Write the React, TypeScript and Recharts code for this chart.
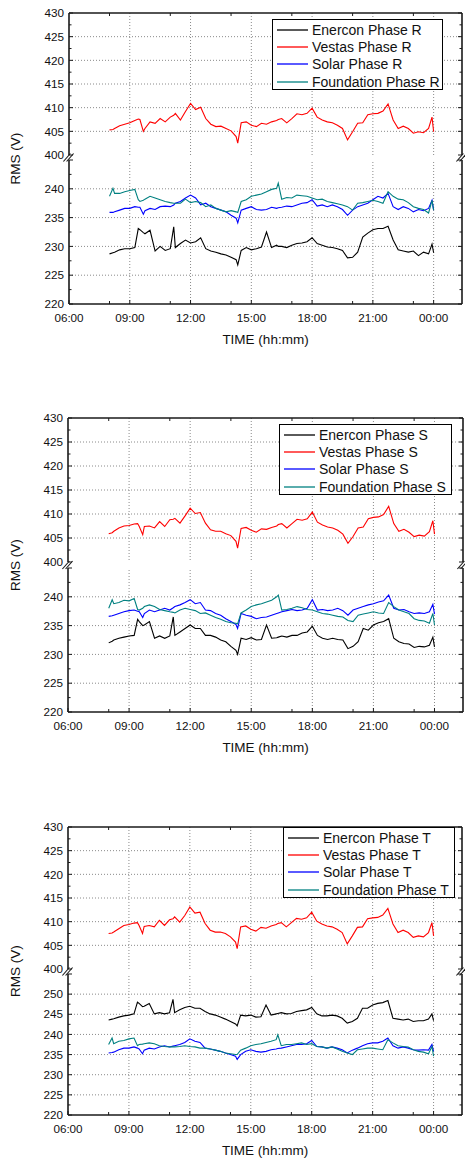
import { LineChart, Line, XAxis, YAxis, ReferenceLine, Legend } from "recharts";

// time of day in hours (24 = 00:00 next day)
const TIMES = [
  8, 8.17, 8.25, 8.5, 8.75, 9, 9.25, 9.42, 9.5, 9.67, 9.75, 10,
  10.25, 10.5, 10.75, 11, 11.17, 11.25, 11.5, 11.75, 12, 12.25, 12.5, 12.75,
  13, 13.25, 13.5, 13.75, 14, 14.25, 14.33, 14.5, 14.75, 15, 15.25, 15.5,
  15.75, 16, 16.25, 16.33, 16.5, 16.75, 17, 17.25, 17.5, 17.75, 18, 18.25,
  18.5, 18.75, 19, 19.25, 19.5, 19.75, 20, 20.25, 20.5, 20.75, 21, 21.25,
  21.5, 21.75, 22, 22.25, 22.5, 22.75, 23, 23.25, 23.5, 23.75, 23.92, 24,
];

// Phase R
const ENERCON_R = [
  228.7, 228.9, 229.0, 229.4, 229.6, 229.6, 229.8, 233.1, 232.9, 232.4, 232.2, 232.8,
  229.2, 230.0, 229.3, 229.6, 233.4, 229.8, 230.5, 231.1, 230.6, 230.8, 231.5, 229.6,
  229.2, 229.0, 228.7, 228.5, 228.1, 227.7, 226.8, 229.3, 229.8, 229.4, 229.6, 229.9,
  232.5, 229.8, 230.2, 230.0, 230.0, 229.8, 230.2, 230.5, 230.6, 230.8, 231.5, 230.5,
  230.2, 229.9, 229.8, 229.6, 229.3, 228.0, 228.1, 229.0, 231.6, 232.3, 232.9, 233.1,
  233.1, 233.5, 231.1, 229.4, 229.2, 229.0, 229.2, 228.4, 229.0, 228.7, 230.4, 228.9,
];
const VESTAS_R = [
  405.3, 405.4, 405.6, 406.2, 406.5, 406.8, 407.3, 407.6, 407.5, 405.0, 405.6, 407.0,
  406.7, 407.7, 407.0, 408.0, 408.4, 408.8, 407.4, 409.2, 410.9, 409.6, 410.1, 407.7,
  406.5, 406.0, 406.1, 405.6, 405.1, 403.9, 402.5, 406.8, 407.0, 406.3, 406.0, 406.7,
  406.5, 407.0, 407.3, 407.5, 407.7, 406.8, 407.7, 408.7, 408.5, 408.8, 409.9, 408.0,
  407.4, 407.0, 406.8, 406.3, 405.6, 403.2, 404.9, 406.7, 406.8, 408.5, 408.7, 408.8,
  409.3, 410.8, 407.4, 405.6, 406.1, 405.6, 404.6, 404.9, 404.7, 405.6, 408.0, 404.9,
];
const SOLAR_R = [
  235.9, 235.9, 236.0, 236.3, 236.6, 236.6, 236.9, 236.8, 236.8, 235.6, 236.2, 236.6,
  236.4, 236.9, 237.0, 236.9, 237.2, 237.5, 237.8, 238.4, 238.9, 238.4, 237.2, 237.5,
  236.9, 236.6, 236.3, 236.0, 235.4, 234.9, 234.1, 236.3, 236.6, 236.9, 236.4, 236.3,
  236.4, 236.8, 236.6, 236.7, 236.8, 237.0, 236.9, 237.2, 237.5, 237.6, 238.1, 237.0,
  237.2, 236.9, 237.2, 236.9, 236.4, 235.4, 236.3, 236.9, 237.2, 237.5, 238.1, 238.7,
  238.4, 239.2, 236.9, 236.4, 236.9, 236.6, 236.0, 236.4, 236.2, 236.6, 238.0, 236.3,
];
const FOUNDATION_R = [
  238.7, 240.1, 239.2, 239.2, 239.5, 239.7, 239.9, 238.1, 237.8, 238.0, 238.2, 238.7,
  238.4, 238.1, 237.8, 237.6, 237.5, 237.5, 237.5, 238.2, 237.6, 237.8, 237.6, 236.9,
  237.2, 236.6, 236.3, 236.0, 236.2, 236.0, 235.9, 237.8, 238.1, 238.7, 238.9, 239.1,
  239.5, 239.9, 240.1, 241.0, 238.2, 238.5, 238.4, 238.9, 238.8, 238.7, 238.4, 238.1,
  238.2, 237.8, 237.6, 237.4, 237.2, 236.9, 236.3, 237.5, 237.6, 237.8, 238.0, 237.8,
  237.5, 239.5, 238.7, 238.2, 238.1, 237.6, 236.9, 236.6, 236.4, 235.8, 238.0, 236.3,
];

// Phase S
const ENERCON_S = [
  232.0, 232.3, 232.5, 232.8, 233.0, 233.2, 233.3, 236.1, 235.7, 235.0, 235.1, 235.7,
  232.8, 233.2, 232.8, 233.2, 236.5, 233.3, 233.9, 234.5, 235.1, 234.5, 234.5, 233.3,
  233.3, 233.0, 232.5, 232.2, 231.4, 230.7, 230.0, 232.8, 232.6, 232.9, 232.5, 232.6,
  235.1, 232.8, 232.9, 233.0, 233.2, 233.0, 233.3, 233.3, 233.7, 233.9, 234.9, 233.3,
  232.8, 232.6, 232.8, 232.6, 232.5, 231.0, 231.4, 232.2, 234.5, 234.2, 235.1, 235.5,
  235.7, 236.2, 232.8, 232.2, 231.9, 231.8, 231.2, 231.4, 231.3, 231.6, 233.0, 231.3,
];
const VESTAS_S = [
  405.9, 406.1, 406.4, 407.1, 407.5, 407.6, 407.9, 408.0, 407.4, 405.7, 407.4, 407.5,
  407.1, 408.4, 407.4, 408.8, 408.9, 409.1, 408.1, 409.6, 411.2, 410.1, 410.3, 408.1,
  406.7, 406.4, 406.4, 405.9, 405.5, 404.3, 402.9, 407.0, 407.2, 406.6, 406.2, 406.9,
  406.8, 407.2, 407.5, 407.8, 408.0, 407.1, 408.0, 408.9, 408.7, 409.0, 410.4, 408.3,
  407.7, 407.3, 407.1, 406.6, 405.8, 403.9, 405.3, 407.1, 407.3, 409.0, 409.3, 409.4,
  409.9, 411.6, 408.0, 406.4, 406.8, 406.2, 405.3, 405.6, 405.4, 406.3, 408.6, 405.8,
];
const SOLAR_S = [
  236.6, 236.7, 236.8, 237.1, 237.4, 237.6, 237.7, 237.5, 237.4, 236.4, 237.1, 237.7,
  237.4, 237.7, 238.0, 237.7, 238.1, 238.3, 238.6, 239.0, 239.5, 238.8, 239.0, 237.7,
  237.6, 237.1, 236.8, 236.2, 235.7, 235.2, 234.5, 237.1, 236.8, 236.6, 236.2, 236.4,
  236.5, 236.8, 237.1, 237.2, 237.4, 237.6, 237.8, 237.6, 237.7, 238.0, 239.5, 237.7,
  237.8, 237.6, 237.7, 238.0, 237.6, 236.8, 237.7, 238.0, 238.3, 238.6, 238.8, 239.1,
  239.3, 240.3, 238.0, 237.7, 237.8, 237.4, 237.1, 237.2, 237.1, 237.4, 238.7, 237.0,
];
const FOUNDATION_S = [
  238.0, 239.5, 238.8, 239.0, 239.4, 239.3, 239.7, 237.8, 237.7, 238.0, 238.3, 238.6,
  238.3, 237.8, 237.6, 237.4, 237.3, 237.2, 237.7, 238.0, 237.8, 237.6, 237.1, 237.2,
  236.8, 236.4, 236.1, 235.7, 235.5, 235.4, 235.3, 237.2, 237.7, 238.3, 238.6, 238.8,
  239.1, 239.4, 240.0, 240.3, 237.7, 237.8, 238.0, 238.3, 238.1, 237.8, 237.7, 237.4,
  237.1, 237.0, 236.8, 236.6, 236.5, 235.9, 235.7, 236.8, 237.0, 237.2, 237.4, 237.2,
  237.1, 239.0, 238.3, 237.7, 237.4, 237.1, 236.2, 235.9, 235.8, 235.4, 237.1, 235.1,
];

// Phase T
const ENERCON_T = [
  243.6, 243.8, 243.9, 244.3, 244.6, 244.8, 245.1, 248.0, 247.7, 246.9, 247.0, 247.7,
  245.1, 245.4, 245.1, 245.4, 248.7, 245.4, 246.1, 246.7, 247.0, 246.5, 246.5, 245.7,
  245.1, 244.8, 244.3, 243.8, 243.2, 242.6, 242.1, 244.8, 244.6, 244.8, 244.3, 244.4,
  247.3, 244.8, 245.1, 245.2, 245.4, 245.1, 245.2, 245.7, 245.9, 246.1, 246.7, 245.1,
  244.6, 244.6, 244.8, 244.6, 244.0, 242.8, 243.2, 244.0, 246.5, 246.5, 247.3, 247.7,
  247.9, 248.4, 244.0, 243.8, 243.6, 243.8, 243.2, 243.4, 243.4, 243.8, 245.1, 243.4,
];
const VESTAS_T = [
  407.5, 407.6, 407.8, 408.5, 409.2, 409.4, 409.7, 409.8, 409.2, 407.5, 409.0, 409.2,
  408.9, 410.3, 409.2, 410.4, 410.6, 411.0, 409.9, 411.3, 413.1, 411.8, 412.0, 409.6,
  408.2, 407.8, 407.8, 407.5, 406.8, 405.7, 404.3, 408.9, 409.1, 408.4, 408.0, 408.8,
  408.6, 409.1, 409.4, 409.6, 409.8, 408.9, 409.8, 410.7, 410.5, 410.8, 412.0, 410.1,
  409.5, 409.1, 408.9, 408.4, 407.7, 405.3, 407.0, 408.8, 408.9, 410.6, 410.8, 410.9,
  411.4, 412.8, 409.5, 407.7, 408.2, 407.7, 406.7, 407.0, 406.8, 407.7, 409.8, 407.0,
];
const SOLAR_T = [
  235.4, 235.5, 235.6, 236.2, 236.6, 236.6, 236.9, 236.6, 236.4, 235.2, 236.1, 236.6,
  236.4, 236.9, 237.2, 236.9, 237.1, 237.2, 237.5, 238.0, 238.9, 238.3, 238.0, 236.6,
  236.4, 236.1, 235.8, 235.4, 235.0, 234.6, 233.8, 235.0, 235.8, 236.2, 235.8, 235.6,
  235.8, 236.2, 236.4, 236.5, 236.6, 236.9, 237.2, 237.5, 237.5, 237.7, 238.5, 237.0,
  236.9, 236.6, 236.9, 236.6, 236.2, 235.4, 236.1, 236.6, 237.2, 237.7, 237.9, 237.9,
  238.3, 239.1, 237.2, 236.6, 236.9, 236.6, 236.2, 236.1, 236.2, 236.1, 237.5, 235.8,
];
const FOUNDATION_T = [
  237.5, 239.1, 237.7, 238.3, 238.5, 238.9, 239.1, 237.2, 237.5, 237.6, 237.7, 237.9,
  237.7, 237.2, 237.0, 236.9, 236.9, 236.9, 237.0, 237.2, 237.0, 236.9, 236.6, 236.6,
  236.4, 236.1, 235.8, 235.4, 235.2, 235.0, 235.0, 236.1, 236.6, 237.2, 237.5, 237.7,
  238.0, 238.3, 238.7, 239.9, 237.2, 237.5, 237.5, 237.7, 237.9, 237.5, 237.7, 237.0,
  236.9, 236.6, 236.9, 236.4, 235.8, 235.4, 235.0, 236.2, 236.4, 236.6, 236.6, 236.4,
  236.2, 238.7, 237.9, 237.2, 237.0, 236.9, 236.2, 235.8, 235.6, 235.2, 237.0, 234.6,
];

const SERIES_KEYS = ["enercon", "vestas", "solar", "foundation"];
const SERIES_NAMES = ["Enercon", "Vestas", "Solar", "Foundation"];
const SERIES_COLORS = ["#000000", "#ff0000", "#0000ff", "#008080"];

const X_DOMAIN = [6, 25.4];
const X_MAJOR = [6, 9, 12, 15, 18, 21, 24];
const X_MINOR = [8, 11, 14, 17, 20, 23];
const X_LABELS = ["06:00", "09:00", "12:00", "15:00", "18:00", "21:00", "00:00"];
const X_GRID = [9, 12, 15, 18, 21, 24];

const UPPER_TICKS = [400, 402.5, 405, 407.5, 410, 412.5, 415, 417.5, 420, 422.5, 425, 427.5, 430];
const UPPER_LABELS = [400, 405, 410, 415, 420, 425, 430];
const UPPER_GRID = [405, 410, 415, 420, 425];

const LOWER_TICKS_RS = [220, 222.5, 225, 227.5, 230, 232.5, 235, 237.5, 240, 242.5, 245];
const LOWER_LABELS_RS = [220, 225, 230, 235, 240];
const LOWER_GRID_RS = [225, 230, 235, 240];

const LOWER_TICKS_T = [220, 222.5, 225, 227.5, 230, 232.5, 235, 237.5, 240, 242.5, 245, 247.5, 250, 252.5, 255];
const LOWER_LABELS_T = [220, 225, 230, 235, 240, 245, 250];
const LOWER_GRID_T = [225, 230, 235, 240, 245, 250];

const FONT = "Arial, 'Liberation Sans', Helvetica, sans-serif";
const AXIS = "#1a1a1a";
const GRID = "#8a8a8a";
const TEXT = "#111";

const PANELS = [
  {
    phase: "R", left: 69, right: 462, uT: 13, uB: 155, lT: 160, lB: 304,
    lowerDomain: [220, 245], lowerTicks: LOWER_TICKS_RS, lowerLabels: LOWER_LABELS_RS, lowerGrid: LOWER_GRID_RS,
    legend: { left: 272, top: 19, width: 171, height: 71 },
    series: [ENERCON_R, VESTAS_R, SOLAR_R, FOUNDATION_R],
  },
  {
    phase: "S", left: 68, right: 463, uT: 418, uB: 562, lT: 568, lB: 712,
    lowerDomain: [220, 245], lowerTicks: LOWER_TICKS_RS, lowerLabels: LOWER_LABELS_RS, lowerGrid: LOWER_GRID_RS,
    legend: { left: 279, top: 424, width: 173, height: 71 },
    series: [ENERCON_S, VESTAS_S, SOLAR_S, FOUNDATION_S],
  },
  {
    phase: "T", left: 68, right: 462, uT: 827, uB: 969, lT: 974, lB: 1115,
    lowerDomain: [220, 255], lowerTicks: LOWER_TICKS_T, lowerLabels: LOWER_LABELS_T, lowerGrid: LOWER_GRID_T,
    legend: { left: 283, top: 827, width: 172, height: 71 },
    series: [ENERCON_T, VESTAS_T, SOLAR_T, FOUNDATION_T],
  },
];

function leftTick(labels: number[]) {
  return (props: any) => {
    const { x, y, payload } = props;
    const v = payload.value;
    const major = v % 5 === 0;
    return (
      <g>
        <line x1={x} x2={x + (major ? 4 : 2.5)} y1={y} y2={y} stroke={AXIS} strokeWidth={1} />
        {labels.includes(v) && (
          <text x={x - 5} y={y + 4.2} textAnchor="end" fontSize={11.7} fontFamily={FONT} fill={TEXT}>
            {v}
          </text>
        )}
      </g>
    );
  };
}

function rightTick(props: any) {
  const { x, y, payload } = props;
  const major = payload.value % 5 === 0;
  return <line x1={x} x2={x - (major ? 4 : 2.5)} y1={y} y2={y} stroke={AXIS} strokeWidth={1} />;
}

function topTick(props: any) {
  const { x, y } = props;
  return <line x1={x} x2={x} y1={y} y2={y + 3} stroke={AXIS} strokeWidth={1} />;
}

function bottomTick(props: any) {
  const { x, y, payload } = props;
  const idx = X_MAJOR.indexOf(payload.value);
  return (
    <g>
      <line x1={x} x2={x} y1={y} y2={y - (idx >= 0 ? 4 : 3)} stroke={AXIS} strokeWidth={1} />
      {idx >= 0 && (
        <text x={x} y={y + 18} textAnchor="middle" fontSize={11.7} fontFamily={FONT} fill={TEXT}>
          {X_LABELS[idx]}
        </text>
      )}
    </g>
  );
}

function LegendBox({ phase }: { phase: string }) {
  return (
    <div
      style={{
        boxSizing: "border-box",
        width: "100%",
        height: "100%",
        border: "1px solid #000",
        background: "#fff",
        padding: "1px 0 0 0",
        fontFamily: FONT,
        fontSize: 14,
        color: TEXT,
      }}
    >
      {SERIES_NAMES.map((name, i) => (
        <div key={name} style={{ display: "flex", alignItems: "center", height: 17.4, whiteSpace: "nowrap" }}>
          <svg width={39} height={10} style={{ flex: "none" }}>
            <line x1={4} x2={35} y1={5} y2={5} stroke={SERIES_COLORS[i]} strokeWidth={1.3} />
          </svg>
          <span>{`${name} Phase ${phase}`}</span>
        </div>
      ))}
    </div>
  );
}

function Panel({ p }: { p: any }) {
  const rows = TIMES.map((t, i) => {
    const row: any = { t };
    SERIES_KEYS.forEach((k, s) => {
      row[k] = p.series[s][i];
    });
    return row;
  });
  // the right y-axis takes 1px of width; the top x-axis takes 1px of height
  const mRight = 465 - p.right - 1;
  const upTop = p.uT - 12;
  const upH = p.uB - p.uT + 22;
  const loTop = p.lT - 8;
  const loH = p.lB - p.lT + 58;
  const yb = (p.uB + p.lT) / 2;
  const axisLine = { stroke: AXIS, strokeWidth: 1.6 };

  return (
    <>
      <div style={{ position: "absolute", left: 0, top: upTop }}>
        <LineChart width={465} height={upH} data={rows} margin={{ top: 11, right: mRight, bottom: 10, left: 0 }}>
          <XAxis
            xAxisId="top" orientation="top" type="number" dataKey="t" domain={X_DOMAIN} allowDataOverflow
            ticks={X_MINOR} interval={0} height={1} tickSize={0} tickMargin={0}
            tick={topTick} tickLine={false} axisLine={axisLine}
          />
          <YAxis
            yAxisId="left" type="number" domain={[400, 430]} allowDataOverflow width={p.left}
            ticks={UPPER_TICKS} interval={0} tickSize={0} tickMargin={0}
            tick={leftTick(UPPER_LABELS)} tickLine={false} axisLine={axisLine}
          />
          <YAxis
            yAxisId="right" orientation="right" type="number" domain={[400, 430]} allowDataOverflow width={1}
            ticks={UPPER_TICKS} interval={0} tickSize={0} tickMargin={0}
            tick={rightTick} tickLine={false} axisLine={axisLine}
          />
          {X_GRID.map((v) => (
            <ReferenceLine key={`vx${v}`} xAxisId="top" yAxisId="left" x={v} stroke={GRID} strokeDasharray="1 2" />
          ))}
          {UPPER_GRID.map((v) => (
            <ReferenceLine key={`hy${v}`} xAxisId="top" yAxisId="left" y={v} stroke={GRID} strokeDasharray="1 2" />
          ))}
          <Line
            xAxisId="top" yAxisId="left" type="linear" dataKey="vestas" name={`Vestas Phase ${p.phase}`}
            stroke={SERIES_COLORS[1]} strokeWidth={1.1} dot={false} isAnimationActive={false}
          />
          <Legend
            layout="vertical" align="center" verticalAlign="middle"
            wrapperStyle={{
              left: p.legend.left,
              top: p.legend.top - upTop,
              width: p.legend.width,
              height: p.legend.height,
            }}
            content={() => <LegendBox phase={p.phase} />}
          />
        </LineChart>
      </div>

      <div style={{ position: "absolute", left: 0, top: loTop }}>
        <LineChart width={465} height={loH} data={rows} margin={{ top: 8, right: mRight, bottom: 0, left: 0 }}>
          <XAxis
            xAxisId="bottom" type="number" dataKey="t" domain={X_DOMAIN} allowDataOverflow
            ticks={[...X_MAJOR, ...X_MINOR]} interval={0} height={50} tickSize={0} tickMargin={0}
            tick={bottomTick} tickLine={false} axisLine={axisLine}
            label={{ value: "TIME (hh:mm)", position: "insideTop", offset: 30, fontSize: 13.5, fill: TEXT, fontFamily: FONT }}
          />
          <YAxis
            yAxisId="left" type="number" domain={p.lowerDomain} allowDataOverflow width={p.left}
            ticks={p.lowerTicks} interval={0} tickSize={0} tickMargin={0}
            tick={leftTick(p.lowerLabels)} tickLine={false} axisLine={axisLine}
          />
          <YAxis
            yAxisId="right" orientation="right" type="number" domain={p.lowerDomain} allowDataOverflow width={1}
            ticks={p.lowerTicks} interval={0} tickSize={0} tickMargin={0}
            tick={rightTick} tickLine={false} axisLine={axisLine}
          />
          {X_GRID.map((v) => (
            <ReferenceLine key={`vx${v}`} xAxisId="bottom" yAxisId="left" x={v} stroke={GRID} strokeDasharray="1 2" />
          ))}
          {p.lowerGrid.map((v: number) => (
            <ReferenceLine key={`hy${v}`} xAxisId="bottom" yAxisId="left" y={v} stroke={GRID} strokeDasharray="1 2" />
          ))}
          {[0, 2, 3].map((s) => (
            <Line
              key={SERIES_KEYS[s]} xAxisId="bottom" yAxisId="left" type="linear" dataKey={SERIES_KEYS[s]}
              name={`${SERIES_NAMES[s]} Phase ${p.phase}`} stroke={SERIES_COLORS[s]} strokeWidth={1.1}
              dot={false} isAnimationActive={false}
            />
          ))}
        </LineChart>
      </div>

      <svg width={465} height={1158} style={{ position: "absolute", left: 0, top: 0, pointerEvents: "none" }}>
        {[p.left, p.right].map((x: number) =>
          [-1.6, 1.6].map((d) => (
            <line key={`${x}${d}`} x1={x - 4 + d} y1={yb + 4} x2={x + 3 + d} y2={yb - 4} stroke={AXIS} strokeWidth={1.1} />
          ))
        )}
        <text
          transform={`translate(15, ${(p.uT + p.lB) / 2}) rotate(-90)`}
          textAnchor="middle" dominantBaseline="central" fontSize={13.5} fontFamily={FONT} fill={TEXT}
        >
          RMS (V)
        </text>
      </svg>
    </>
  );
}

export default function App() {
  return (
    <div style={{ position: "absolute", left: 0, top: 0, width: 465, height: 1158, background: "#fff" }}>
      {PANELS.map((p) => (
        <Panel key={p.phase} p={p} />
      ))}
    </div>
  );
}
